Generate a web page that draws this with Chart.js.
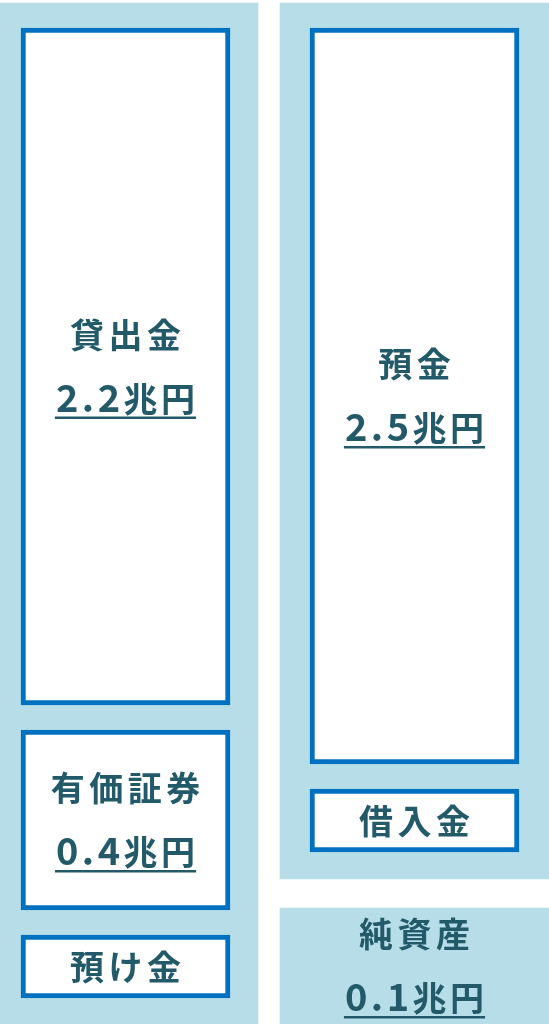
<!DOCTYPE html>
<html><head><meta charset="utf-8">
<script src="https://cdn.jsdelivr.net/npm/chart.js@4/dist/chart.umd.min.js"></script>
<style>html,body{margin:0;padding:0;background:#fff;overflow:hidden}#wrap{width:549px;height:1024px;position:relative}</style>
</head><body><div id="wrap"><canvas id="c" width="549" height="1024"></canvas></div>
<script>
// ---- data (schematic block sizes) ----
const columns = ['資産', '負債・純資産'];
const assetItems = ['貸出金', '有価証券', '預け金'];
const assetAmounts = ['2.2兆円', '0.4兆円', ''];
const assetBlocks = [677, 180, 63];
const liabilityItems = ['預金', '借入金'];
const liabilityAmounts = ['2.5兆円', ''];
const liabilityBlocks = [736, 63];
const equityItems = ['純資産'];
const equityAmounts = ['0.1兆円'];
const equityBlocks = [116];

// ---- layout / style ----
const SCALE_MAX = 1024, TOP = 3, GAP = 25, PANEL_TAIL = 27;
const PANEL = '#b7dde8', BORDER = '#0070c0', TEXT = '#225a69';
const FONT_FAMILY = '"Noto Sans CJK JP","Noto Sans CJK SC",sans-serif';

function stackRanges(blocks, start) {
  let y = start;
  return blocks.map(b => { const r = [y, y + b]; y = y + b + GAP; return r; });
}
const assetRanges = stackRanges(assetBlocks, TOP + GAP);
const liabRanges = stackRanges(liabilityBlocks, TOP + GAP);
const liabPanelEnd = liabRanges[liabRanges.length - 1][1] + PANEL_TAIL;
const equityRange = [SCALE_MAX - equityBlocks[0], SCALE_MAX];

const textMap = []; // {ds, idx, label, amount}
const datasets = [];
function addBox(range, col, label, amount) {
  const data = columns.map((_, i) => i === col ? range : null);
  textMap.push({ ds: datasets.length, idx: col, label, amount });
  datasets.push({ data, backgroundColor: '#ffffff', borderColor: BORDER, borderWidth: 5,
    borderSkipped: false, grouped: false, barThickness: 209, maxBarThickness: 209, order: 1, clip: false });
}
assetItems.forEach((l, i) => addBox(assetRanges[i], 0, l, assetAmounts[i]));
liabilityItems.forEach((l, i) => addBox(liabRanges[i], 1, l, liabilityAmounts[i]));
// equity panel (no border)
textMap.push({ ds: datasets.length, idx: 1, label: equityItems[0], amount: equityAmounts[0] });
datasets.push({ data: [null, equityRange], backgroundColor: PANEL, borderWidth: 0, grouped: false,
  barThickness: 269, maxBarThickness: 269, order: 2, clip: false });
// column panels
datasets.push({ data: [[TOP, SCALE_MAX], null], backgroundColor: PANEL, borderWidth: 0, grouped: false,
  barThickness: 265, maxBarThickness: 265, order: 3, clip: false });
datasets.push({ data: [null, [TOP, liabPanelEnd]], backgroundColor: PANEL, borderWidth: 0, grouped: false,
  barThickness: 269, maxBarThickness: 269, order: 3, clip: false });

function drawSpaced(ctx, str, cx, baseline, spacing, underline) {
  const chars = Array.from(str);
  const fonts = chars.map(c => /[0-9.]/.test(c) ? 'bold 38px ' + FONT_FAMILY : 'bold 34px ' + FONT_FAMILY);
  const widths = chars.map((c, i) => { ctx.font = fonts[i]; return ctx.measureText(c).width; });
  const total = widths.reduce((a, b) => a + b, 0) + spacing * (chars.length - 1);
  let x = cx - total / 2;
  const x0 = x;
  chars.forEach((c, i) => { ctx.font = fonts[i]; ctx.fillText(c, x, baseline); x += widths[i] + spacing; });
  if (underline) ctx.fillRect(x0 - 1, baseline + 5, total + 2, 2.5);
}

const labelPlugin = {
  id: 'labels',
  afterDatasetsDraw(chart) {
    const ctx = chart.ctx;
    ctx.save();
    ctx.fillStyle = TEXT;
    ctx.textAlign = 'left';
    ctx.textBaseline = 'alphabetic';
    textMap.forEach(t => {
      const el = chart.getDatasetMeta(t.ds).data[t.idx];
      const cy = (el.y + el.base) / 2;
      if (t.amount) {
        drawSpaced(ctx, t.label, el.x, cy - 32 + 13, 4.5, false);
        drawSpaced(ctx, t.amount, el.x, cy + 32 + 13, 3.5, true);
      } else {
        drawSpaced(ctx, t.label, el.x, cy + 13, 4.5, false);
      }
    });
    ctx.restore();
  }
};

new Chart(document.getElementById('c'), {
  type: 'bar',
  data: { labels: columns, datasets },
  options: {
    responsive: false, animation: false, events: [],
    layout: { padding: { left: 125.5, right: 134.5, top: 0, bottom: 0 } },
    plugins: { legend: { display: false }, tooltip: { enabled: false } },
    scales: {
      x: { type: 'category', offset: false, display: false, grid: { display: false } },
      y: { min: 0, max: SCALE_MAX, reverse: true, display: false }
    }
  },
  plugins: [labelPlugin]
});
</script></body></html>
